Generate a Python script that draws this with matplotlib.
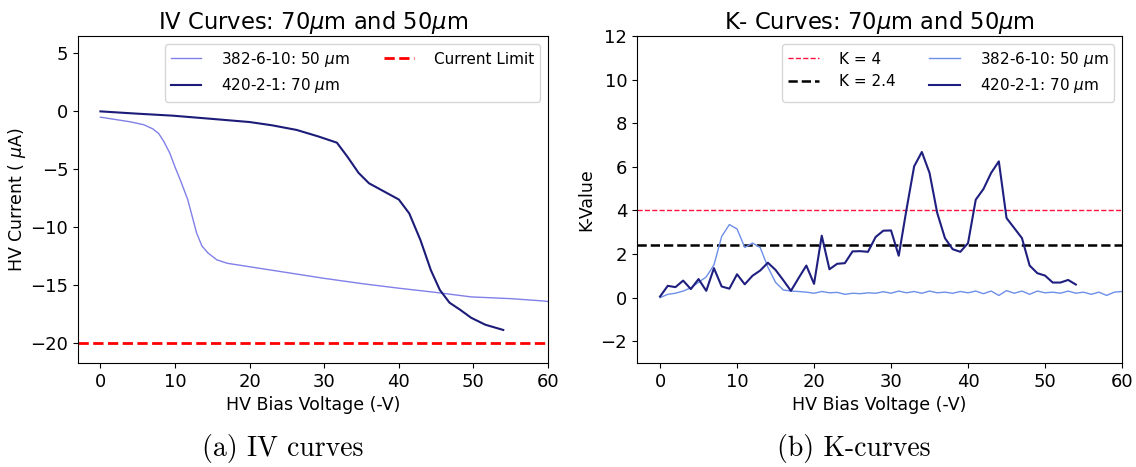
"""IV and K curves for the 70um and 50um sensors."""

import matplotlib

matplotlib.use("Agg")
import matplotlib.pyplot as plt

# IV curves (bias voltage in -V, current in uA)
iv_v_50 = [0, 2, 4, 5.8, 7, 7.8, 8.5, 9.3, 10, 10.7, 11.7, 12.9, 13.6, 14.4, 15.6, 17, 20, 25, 30, 35, 40, 44.8, 49.7, 55, 59.4, 60]
iv_i_50 = [-0.5, -0.7, -0.9, -1.15, -1.5, -1.9, -2.6, -3.6, -4.8, -5.9, -7.6, -10.5, -11.6, -12.2, -12.8, -13.1, -13.4, -13.9, -14.4, -14.85, -15.25, -15.6, -16.0, -16.15, -16.35, -16.4]
iv_v_70 = [0, 5, 9.7, 15, 20, 23, 26.3, 29.2, 31.7, 33.1, 34.6, 36, 38, 40, 41.4, 42.9, 44.3, 45.5, 46.8, 48.2, 49.7, 51.6, 54]
iv_i_70 = [0.0, -0.2, -0.37, -0.65, -0.92, -1.2, -1.6, -2.16, -2.7, -3.9, -5.3, -6.2, -6.9, -7.6, -8.8, -11.1, -13.7, -15.4, -16.5, -17.1, -17.8, -18.4, -18.85]
current_limit = -20

# K-value curves
k_v_50 = list(range(0, 61))
k_val_50 = [
    0.0, 0.15, 0.2, 0.3, 0.45, 0.7, 0.95, 1.5, 2.8, 3.35,
    3.15, 2.3, 2.5, 2.3, 1.4, 0.7, 0.35, 0.3, 0.28, 0.25,
    0.2, 0.28, 0.22, 0.24, 0.15, 0.2, 0.18, 0.22, 0.2, 0.27,
    0.2, 0.3, 0.22, 0.28, 0.2, 0.3, 0.22, 0.25, 0.2, 0.28,
    0.22, 0.3, 0.18, 0.3, 0.1, 0.32, 0.2, 0.3, 0.15, 0.3,
    0.22, 0.25, 0.2, 0.3, 0.2, 0.25, 0.15, 0.25, 0.1, 0.25, 0.28,
]
k_v_70 = list(range(0, 55))
k_val_70 = [
    0.05, 0.54, 0.48, 0.78, 0.39, 0.85, 0.31, 1.35, 0.51, 0.41,
    1.07, 0.61, 1.0, 1.24, 1.6, 1.27, 0.8, 0.31, 0.9, 1.47,
    0.63, 2.84, 1.3, 1.55, 1.58, 2.12, 2.13, 2.1, 2.78, 3.07,
    3.08, 1.92, 4.03, 6.02, 6.68, 5.72, 3.88, 2.73, 2.22, 2.1,
    2.5, 4.49, 4.98, 5.72, 6.25, 3.65, 3.19, 2.73, 1.47, 1.12,
    1.01, 0.69, 0.69, 0.81, 0.6,
]
k_high = 4
k_low = 2.4

label_50 = r"382-6-10: 50 $\mu$m"
label_70 = r"420-2-1: 70 $\mu$m"

fig = plt.figure(figsize=(11.36, 4.67), dpi=100)
ax1 = fig.add_axes([0.0687, 0.2227, 0.4137, 0.7002])
ax2 = fig.add_axes([0.5607, 0.2227, 0.427, 0.7002])

# (a) IV curves
ax1.plot(iv_v_50, iv_i_50, color="#8080e8", lw=1.0, label=label_50)
ax1.plot(iv_v_70, iv_i_70, color="#1c1c78", lw=1.5, label=label_70)
ax1.axhline(current_limit, color="red", ls="--", lw=2, label="Current Limit")
ax1.set_xlim(-3, 60)
ax1.set_ylim(-21.7, 6.5)
ax1.set_xticks(range(0, 61, 10))
ax1.set_yticks(range(-20, 6, 5))
ax1.set_title(r"IV Curves: 70$\mu$m and 50$\mu$m", fontsize=16.3, pad=4)
ax1.set_xlabel("HV Bias Voltage (-V)", fontsize=12.5)
ax1.set_ylabel(r"HV Current ( $\mu$A)", fontsize=12.5)
ax1.yaxis.set_label_coords(-0.107, 0.5)
ax1.tick_params(labelsize=13)
ax1.legend(loc="upper right", ncol=2, fontsize=11, framealpha=0.8,
           handletextpad=1.3, columnspacing=2.2)

# (b) K-curves
ax2.axhline(k_high, color="#ff1040", ls="--", lw=1.0, label="K = 4")
ax2.axhline(k_low, color="black", ls="--", lw=1.8, label="K = 2.4")
ax2.plot(k_v_50, k_val_50, color="#6d8fe8", lw=1.0, label=label_50)
ax2.plot(k_v_70, k_val_70, color="#1f1f80", lw=1.5, label=label_70)
ax2.set_xlim(-3, 60)
ax2.set_ylim(-3, 12)
ax2.set_xticks(range(0, 61, 10))
ax2.set_yticks(range(-2, 13, 2))
ax2.set_title(r"K- Curves: 70$\mu$m and 50$\mu$m", fontsize=16.3, pad=4)
ax2.set_xlabel("HV Bias Voltage (-V)", fontsize=12.5)
ax2.set_ylabel("K-Value", fontsize=12.5)
ax2.yaxis.set_label_coords(-0.085, 0.5)
ax2.tick_params(labelsize=13)
ax2.legend(loc="upper right", ncol=2, fontsize=11, framealpha=0.8,
           handletextpad=1.3, columnspacing=2.2)

# sub-figure captions
fig.text(0.249, 0.04, "(a) IV curves", family="cmr10", fontsize=20, ha="center", va="center")
fig.text(0.752, 0.04, "(b) K-curves", family="cmr10", fontsize=20, ha="center", va="center")

fig.savefig("out.png", dpi=100)
